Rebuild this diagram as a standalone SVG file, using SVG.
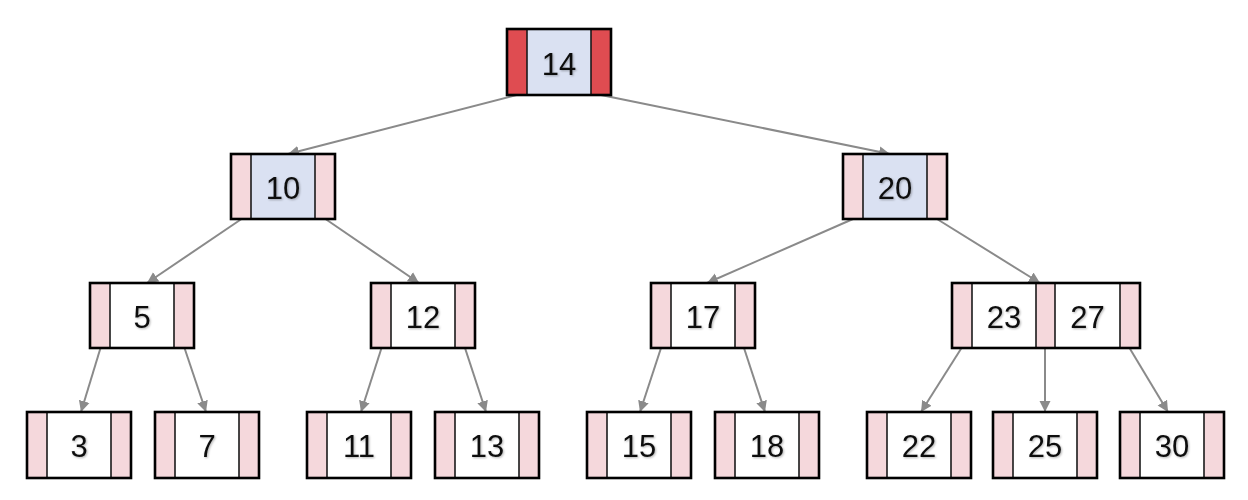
<svg xmlns="http://www.w3.org/2000/svg" width="1248" height="500" viewBox="0 0 1248 500">
<defs>
<marker id="arr" markerUnits="userSpaceOnUse" markerWidth="12" markerHeight="12" refX="11" refY="6" orient="auto">
<path d="M0,0.5 L11,6 L0,11.5 z" fill="#8a8a8a"/>
</marker>
<filter id="sh" x="-20%" y="-20%" width="140%" height="140%">
<feDropShadow dx="1" dy="1" stdDeviation="0.8" flood-color="#000" flood-opacity="0.3"/>
</filter>
</defs>
<style>
.ptr{fill:#F5D8DC;}
.ptrR{fill:#DF4C51;}
.key{fill:#FFFFFF;}
.keyB{fill:#DAE1F2;}
.div{stroke:#1a1a1a;stroke-width:1.6;}
.box{fill:none;stroke:#000;stroke-width:2.6;}
.lbl{font-family:"Liberation Sans","DejaVu Sans",sans-serif;font-size:31px;fill:#111;text-anchor:middle;filter:url(#sh);}
.edge{stroke:#8a8a8a;stroke-width:2;fill:none;marker-end:url(#arr);}
</style>
<rect width="1248" height="500" fill="#fff"/>
<g id="connectors">
<line class="edge" x1="516.5" y1="95" x2="288" y2="154"/>
<line class="edge" x1="601" y1="95" x2="890" y2="154"/>
<line class="edge" x1="241.5" y1="219" x2="147" y2="283"/>
<line class="edge" x1="325.5" y1="219" x2="419" y2="283"/>
<line class="edge" x1="853" y1="219" x2="707" y2="283"/>
<line class="edge" x1="937" y1="219" x2="1040" y2="283"/>
<line class="edge" x1="100.5" y1="348" x2="81" y2="412"/>
<line class="edge" x1="184.5" y1="348" x2="206" y2="412"/>
<line class="edge" x1="381.5" y1="348" x2="361" y2="412"/>
<line class="edge" x1="465" y1="348" x2="486" y2="412"/>
<line class="edge" x1="661" y1="348" x2="640" y2="412"/>
<line class="edge" x1="744" y1="348" x2="765" y2="412"/>
<line class="edge" x1="961.5" y1="348" x2="921" y2="412"/>
<line class="edge" x1="1045" y1="348" x2="1045" y2="412"/>
<line class="edge" x1="1129.5" y1="348" x2="1168" y2="412"/>
</g>
<g id="node-14">
<rect class="ptrR" x="507" y="29" width="20" height="66"/>
<rect class="keyB" x="527" y="29" width="64" height="66"/>
<rect class="ptrR" x="591" y="29" width="20" height="66"/>
<line class="div" x1="527" y1="29" x2="527" y2="95"/>
<line class="div" x1="591" y1="29" x2="591" y2="95"/>
<rect class="box" x="507" y="29" width="104" height="66"/>
<text class="lbl" x="559" y="75">14</text>
</g>
<g id="node-10">
<rect class="ptr" x="231" y="154" width="20" height="65"/>
<rect class="keyB" x="251" y="154" width="64" height="65"/>
<rect class="ptr" x="315" y="154" width="20" height="65"/>
<line class="div" x1="251" y1="154" x2="251" y2="219"/>
<line class="div" x1="315" y1="154" x2="315" y2="219"/>
<rect class="box" x="231" y="154" width="104" height="65"/>
<text class="lbl" x="283" y="199">10</text>
</g>
<g id="node-20">
<rect class="ptr" x="843" y="154" width="20" height="65"/>
<rect class="keyB" x="863" y="154" width="64" height="65"/>
<rect class="ptr" x="927" y="154" width="20" height="65"/>
<line class="div" x1="863" y1="154" x2="863" y2="219"/>
<line class="div" x1="927" y1="154" x2="927" y2="219"/>
<rect class="box" x="843" y="154" width="104" height="65"/>
<text class="lbl" x="895" y="199">20</text>
</g>
<g id="node-5">
<rect class="ptr" x="90" y="283" width="20" height="65"/>
<rect class="key" x="110" y="283" width="64" height="65"/>
<rect class="ptr" x="174" y="283" width="20" height="65"/>
<line class="div" x1="110" y1="283" x2="110" y2="348"/>
<line class="div" x1="174" y1="283" x2="174" y2="348"/>
<rect class="box" x="90" y="283" width="104" height="65"/>
<text class="lbl" x="142" y="328">5</text>
</g>
<g id="node-12">
<rect class="ptr" x="371" y="283" width="20" height="65"/>
<rect class="key" x="391" y="283" width="64" height="65"/>
<rect class="ptr" x="455" y="283" width="20" height="65"/>
<line class="div" x1="391" y1="283" x2="391" y2="348"/>
<line class="div" x1="455" y1="283" x2="455" y2="348"/>
<rect class="box" x="371" y="283" width="104" height="65"/>
<text class="lbl" x="423" y="328">12</text>
</g>
<g id="node-17">
<rect class="ptr" x="651" y="283" width="20" height="65"/>
<rect class="key" x="671" y="283" width="64" height="65"/>
<rect class="ptr" x="735" y="283" width="20" height="65"/>
<line class="div" x1="671" y1="283" x2="671" y2="348"/>
<line class="div" x1="735" y1="283" x2="735" y2="348"/>
<rect class="box" x="651" y="283" width="104" height="65"/>
<text class="lbl" x="703" y="328">17</text>
</g>
<g id="node-23-27">
<rect class="ptr" x="952" y="283" width="20" height="65"/>
<rect class="key" x="972" y="283" width="64" height="65"/>
<rect class="ptr" x="1036" y="283" width="19" height="65"/>
<rect class="key" x="1055" y="283" width="65" height="65"/>
<rect class="ptr" x="1120" y="283" width="20" height="65"/>
<line class="div" x1="972" y1="283" x2="972" y2="348"/>
<line class="div" x1="1036" y1="283" x2="1036" y2="348"/>
<line class="div" x1="1055" y1="283" x2="1055" y2="348"/>
<line class="div" x1="1120" y1="283" x2="1120" y2="348"/>
<rect class="box" x="952" y="283" width="188" height="65"/>
<text class="lbl" x="1004" y="328">23</text>
<text class="lbl" x="1087.5" y="328">27</text>
</g>
<g id="node-3">
<rect class="ptr" x="27" y="412" width="20" height="66"/>
<rect class="key" x="47" y="412" width="64" height="66"/>
<rect class="ptr" x="111" y="412" width="20" height="66"/>
<line class="div" x1="47" y1="412" x2="47" y2="478"/>
<line class="div" x1="111" y1="412" x2="111" y2="478"/>
<rect class="box" x="27" y="412" width="104" height="66"/>
<text class="lbl" x="79" y="457">3</text>
</g>
<g id="node-7">
<rect class="ptr" x="155" y="412" width="20" height="66"/>
<rect class="key" x="175" y="412" width="64" height="66"/>
<rect class="ptr" x="239" y="412" width="20" height="66"/>
<line class="div" x1="175" y1="412" x2="175" y2="478"/>
<line class="div" x1="239" y1="412" x2="239" y2="478"/>
<rect class="box" x="155" y="412" width="104" height="66"/>
<text class="lbl" x="207" y="457">7</text>
</g>
<g id="node-11">
<rect class="ptr" x="307" y="412" width="20" height="66"/>
<rect class="key" x="327" y="412" width="64" height="66"/>
<rect class="ptr" x="391" y="412" width="20" height="66"/>
<line class="div" x1="327" y1="412" x2="327" y2="478"/>
<line class="div" x1="391" y1="412" x2="391" y2="478"/>
<rect class="box" x="307" y="412" width="104" height="66"/>
<text class="lbl" x="359" y="457">11</text>
</g>
<g id="node-13">
<rect class="ptr" x="435" y="412" width="20" height="66"/>
<rect class="key" x="455" y="412" width="64" height="66"/>
<rect class="ptr" x="519" y="412" width="20" height="66"/>
<line class="div" x1="455" y1="412" x2="455" y2="478"/>
<line class="div" x1="519" y1="412" x2="519" y2="478"/>
<rect class="box" x="435" y="412" width="104" height="66"/>
<text class="lbl" x="487" y="457">13</text>
</g>
<g id="node-15">
<rect class="ptr" x="587" y="412" width="20" height="66"/>
<rect class="key" x="607" y="412" width="64" height="66"/>
<rect class="ptr" x="671" y="412" width="20" height="66"/>
<line class="div" x1="607" y1="412" x2="607" y2="478"/>
<line class="div" x1="671" y1="412" x2="671" y2="478"/>
<rect class="box" x="587" y="412" width="104" height="66"/>
<text class="lbl" x="639" y="457">15</text>
</g>
<g id="node-18">
<rect class="ptr" x="715" y="412" width="20" height="66"/>
<rect class="key" x="735" y="412" width="64" height="66"/>
<rect class="ptr" x="799" y="412" width="20" height="66"/>
<line class="div" x1="735" y1="412" x2="735" y2="478"/>
<line class="div" x1="799" y1="412" x2="799" y2="478"/>
<rect class="box" x="715" y="412" width="104" height="66"/>
<text class="lbl" x="767" y="457">18</text>
</g>
<g id="node-22">
<rect class="ptr" x="867" y="412" width="20" height="66"/>
<rect class="key" x="887" y="412" width="64" height="66"/>
<rect class="ptr" x="951" y="412" width="20" height="66"/>
<line class="div" x1="887" y1="412" x2="887" y2="478"/>
<line class="div" x1="951" y1="412" x2="951" y2="478"/>
<rect class="box" x="867" y="412" width="104" height="66"/>
<text class="lbl" x="919" y="457">22</text>
</g>
<g id="node-25">
<rect class="ptr" x="993" y="412" width="20" height="66"/>
<rect class="key" x="1013" y="412" width="64" height="66"/>
<rect class="ptr" x="1077" y="412" width="20" height="66"/>
<line class="div" x1="1013" y1="412" x2="1013" y2="478"/>
<line class="div" x1="1077" y1="412" x2="1077" y2="478"/>
<rect class="box" x="993" y="412" width="104" height="66"/>
<text class="lbl" x="1045" y="457">25</text>
</g>
<g id="node-30">
<rect class="ptr" x="1120" y="412" width="20" height="66"/>
<rect class="key" x="1140" y="412" width="64" height="66"/>
<rect class="ptr" x="1204" y="412" width="20" height="66"/>
<line class="div" x1="1140" y1="412" x2="1140" y2="478"/>
<line class="div" x1="1204" y1="412" x2="1204" y2="478"/>
<rect class="box" x="1120" y="412" width="104" height="66"/>
<text class="lbl" x="1172" y="457">30</text>
</g>
</svg>
